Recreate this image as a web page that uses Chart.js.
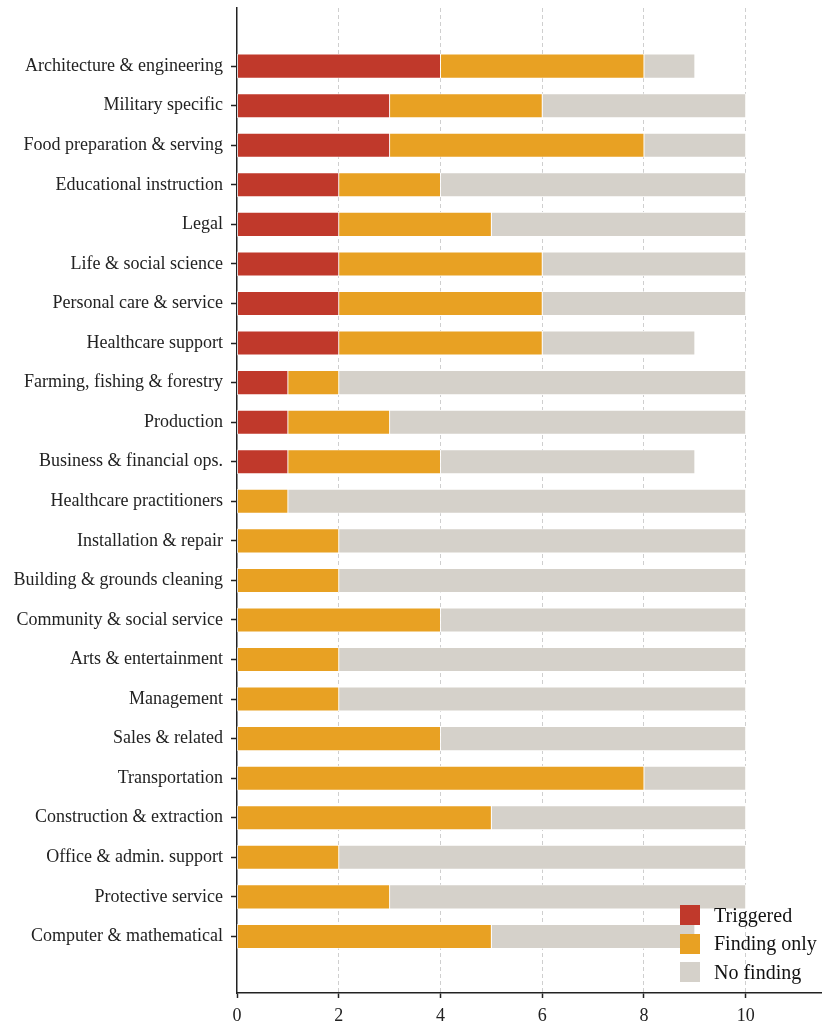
<!DOCTYPE html>
<html>
<head>
<meta charset="utf-8">
<script src="https://cdn.jsdelivr.net/npm/chart.js@4.4.0/dist/chart.umd.min.js"></script>
<style>
  body { margin: 0; background: #fff; }
  #wrap { position: relative; width: 822px; height: 1028px; }
  #legend { position: absolute; left: 680px; top: 901px; font-family: "Liberation Serif", "Times New Roman", serif; font-size: 20px; color: #111; }
  #legend div { height: 28.5px; display: flex; align-items: center; }
  #legend span.sw { display: inline-block; width: 20px; height: 20px; margin-right: 14px; }
</style>
</head>
<body>
<div id="wrap">
  <canvas id="chart" width="822" height="1028"></canvas>
  <div id="legend"></div>
</div>
<script>
// occupation groups, top to bottom
var categories = [
  'Architecture & engineering', 'Military specific', 'Food preparation & serving',
  'Educational instruction', 'Legal', 'Life & social science', 'Personal care & service',
  'Healthcare support', 'Farming, fishing & forestry', 'Production',
  'Business & financial ops.', 'Healthcare practitioners', 'Installation & repair',
  'Building & grounds cleaning', 'Community & social service', 'Arts & entertainment',
  'Management', 'Sales & related', 'Transportation', 'Construction & extraction',
  'Office & admin. support', 'Protective service', 'Computer & mathematical'
];
var triggered   = [4, 3, 3, 2, 2, 2, 2, 2, 1, 1, 1, 0, 0, 0, 0, 0, 0, 0, 0, 0, 0, 0, 0];
var findingOnly = [4, 3, 5, 2, 3, 4, 4, 4, 1, 2, 3, 1, 2, 2, 4, 2, 2, 4, 8, 5, 2, 3, 5];
var noFinding   = [1, 4, 2, 6, 5, 4, 4, 3, 8, 7, 5, 9, 8, 8, 6, 8, 8, 6, 2, 5, 8, 7, 4];
var xTicks = [0, 2, 4, 6, 8, 10];

var serif = '"Liberation Serif", "Times New Roman", serif';

var series = [
  { label: 'Triggered', data: triggered, color: '#C0392B' },
  { label: 'Finding only', data: findingOnly, color: '#E8A123' },
  { label: 'No finding', data: noFinding, color: '#D5D1CA' }
];

var datasets = series.map(function (s) {
  return {
    label: s.label,
    data: s.data,
    backgroundColor: s.color,
    borderColor: '#ffffff',
    borderWidth: 0.8,
    borderSkipped: false,
    barThickness: 24
  };
});

var ctx = document.getElementById('chart');
var myChart = new Chart(ctx, {
  type: 'bar',
  data: { labels: categories, datasets: datasets },
  options: {
    indexAxis: 'y',
    responsive: false,
    animation: false,
    layout: { padding: { top: 8, right: 0, left: 0, bottom: 0 } },
    plugins: { legend: { display: false }, tooltip: { enabled: false } },
    scales: {
      x: {
        stacked: true,
        min: 0,
        max: 11.5,
        afterBuildTicks: function (scale) {
          scale.ticks = xTicks.map(function (v) { return { value: v }; });
        },
        afterFit: function (scale) {
          scale.height = 35;
          scale.paddingLeft = 0;
          scale.paddingRight = 0;
        },
        ticks: { font: { family: serif, size: 18 }, color: '#222', padding: 7, includeBounds: false },
        grid: {
          color: function (c) { return c.tick && c.tick.value === 0 ? 'rgba(0,0,0,0)' : '#cfcfcf'; },
          lineWidth: 1,
          tickColor: '#222',
          tickLength: 5,
          tickWidth: 1.5
        },
        border: { display: true, color: '#222', width: 1.5, dash: [4, 3] }
      },
      y: {
        stacked: true,
        afterBuildTicks: function (scale) {
          // extra empty space above the first bar and below the last
          scale._startValue = -1.47;
          scale._valueRange = categories.length + 1.9;
          scale.ticks = categories.map(function (c, i) { return { value: i }; });
        },
        afterFit: function (scale) {
          scale.width = 237;
          scale.paddingTop = 0;
          scale.paddingBottom = 0;
        },
        ticks: { font: { family: serif, size: 18 }, color: '#222', padding: 8, autoSkip: false },
        grid: {
          display: true,
          offset: false,
          drawOnChartArea: false,
          drawTicks: true,
          tickLength: 6,
          tickColor: '#222',
          tickWidth: 1.5
        },
        border: { display: true, color: '#222', width: 1.5 }
      }
    }
  }
});

var legend = document.getElementById('legend');
series.forEach(function (s) {
  var row = document.createElement('div');
  row.innerHTML = '<span class="sw" style="background:' + s.color + '"></span>' + s.label;
  legend.appendChild(row);
});
</script>
</body>
</html>
